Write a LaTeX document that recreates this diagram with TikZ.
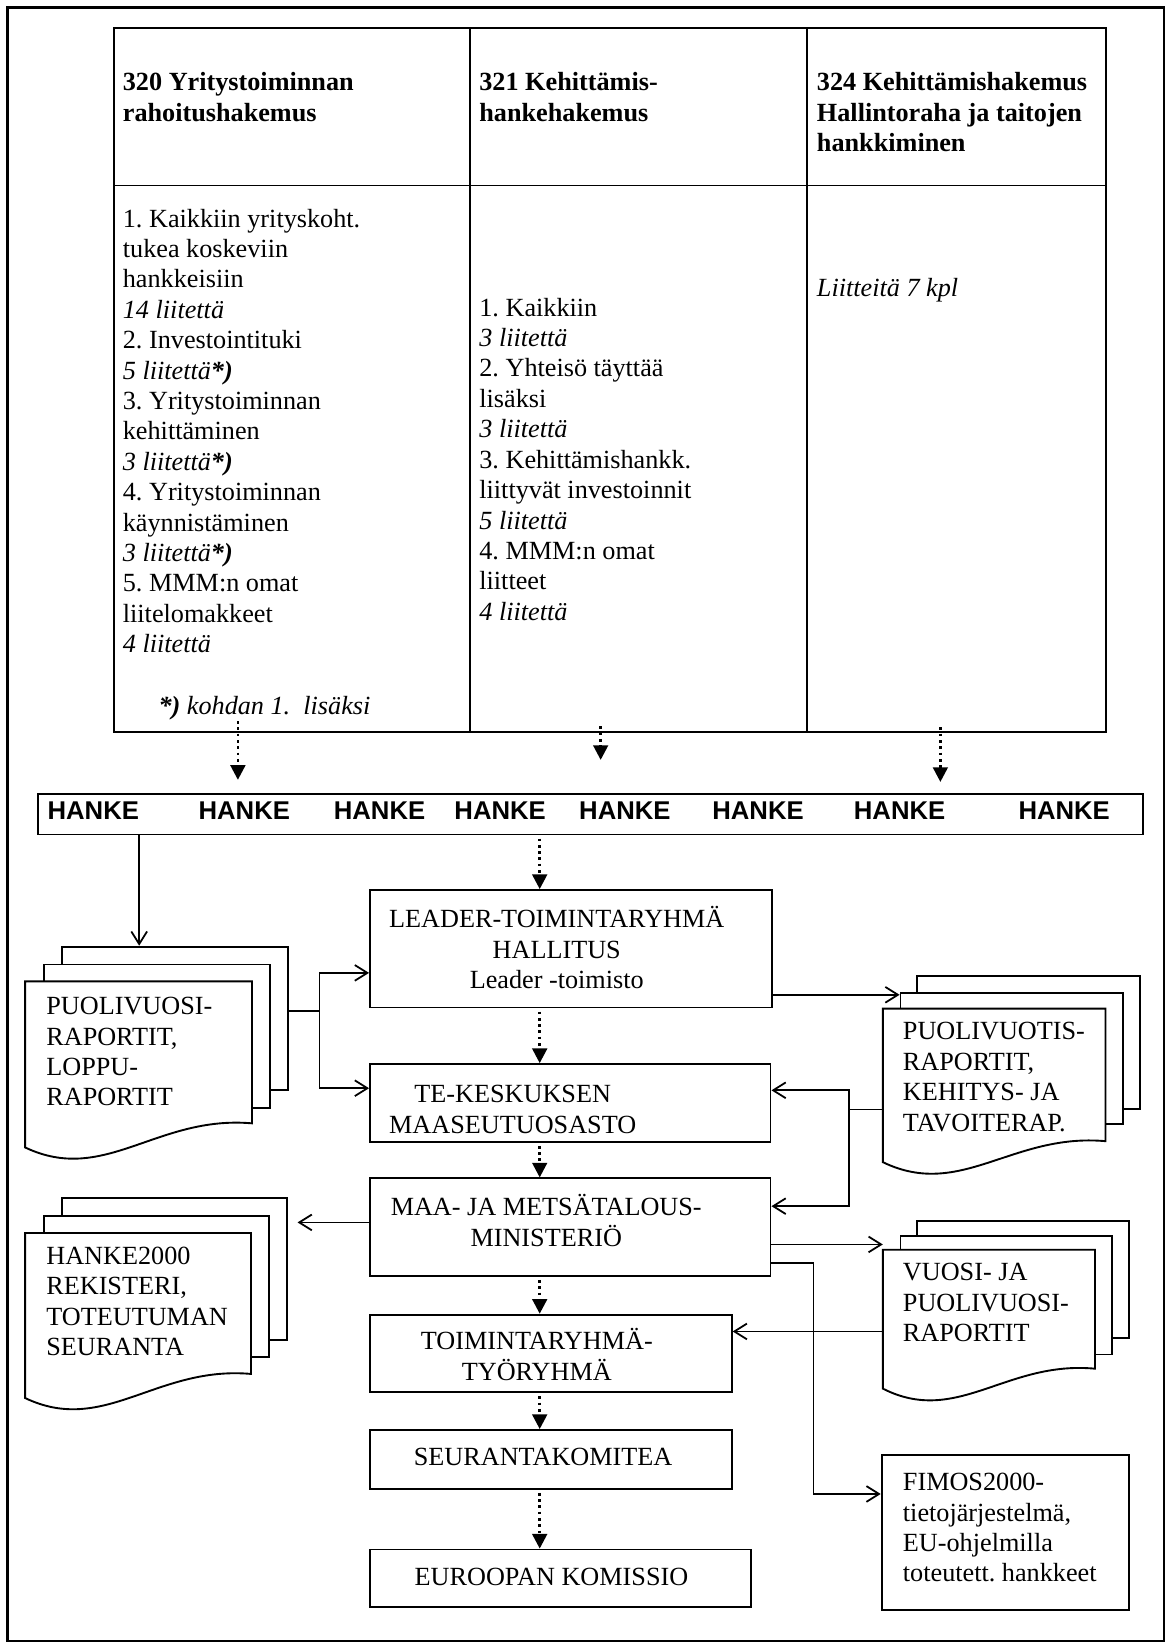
\documentclass[tikz,border=0pt]{standalone}
\usepackage{fontspec}
\setmainfont{Liberation Serif}
\setsansfont{Liberation Sans}
\usetikzlibrary{arrows.meta,calc}
\frenchspacing

% front sheet of a pile of reports: waved lower edge, #2 = extra drop on the left
\newcommand{\wavepage}[2]{%
  \draw[line width=1.8pt, fill=white] (#1.south east)
    .. controls ($(#1.south west)!0.58!(#1.south east)+(0,-8)$) and ($(#1.south west)!0.35!(#1.south east)+(0,#2+36)$)
    .. ([yshift=-#2pt]#1.south west) -- (#1.north west) -- (#1.north east) -- cycle;}

\begin{document}
\begin{tikzpicture}[x=1pt,y=-1pt,
  every node/.style={font=\fontsize{25}{29}\selectfont},
  cell/.style={draw, line width=1.8pt, anchor=north west, inner sep=0pt},
  box/.style={draw, line width=1.8pt, anchor=north west, inner sep=0pt},
  page/.style={draw, fill=white, line width=1.8pt, anchor=north west, inner sep=0pt},
  sheet/.style={anchor=north west, inner sep=0pt},
  txt/.style={anchor=north west, inner sep=0pt, align=left},
  lbl/.style={inner sep=0pt, align=center},
  hd/.style={txt, font=\fontsize{25}{29}\selectfont\bfseries},
  hk/.style={inner sep=0pt, font=\fontsize{24.5}{29}\selectfont\sffamily\bfseries},
  line/.style={line width=1.7pt},
  arr/.style={line width=1.7pt, -{Straight Barb[length=12pt,width=15pt]}},
  dots/.style={line width=2.6pt, dash pattern=on 2.6pt off 3.4pt, shorten <=3pt,
    -{Triangle[length=14pt,width=14pt]}}]

\useasboundingbox (0,0) rectangle (1116,1568);
\draw[line width=2.4pt] (7,7) rectangle (1110,1565);

% the three application forms
\node[cell, minimum width=339pt, minimum height=150pt] (h320) at (108,26) {};
\node[cell, minimum width=322pt, minimum height=150pt] (h321) at (447,26) {};
\node[cell, minimum width=285pt, minimum height=150pt] (h324) at (769,26) {};
\node[cell, minimum width=339pt, minimum height=521pt] (b320) at (108,176) {};
\node[cell, minimum width=322pt, minimum height=521pt] (b321) at (447,176) {};
\node[cell, minimum width=285pt, minimum height=521pt] (b324) at (769,176) {};

\node[hd] (h320t) at (117,69) {320 Yritystoiminnan\\rahoitushakemus};
\node[hd] (h321t) at (457,69) {321 Kehittämis-\\hankehakemus};
\node[hd] (h324t) at (779,69) {324 Kehittämishakemus\\Hallintoraha ja taitojen\\hankkiminen};

\node[txt] (b320t) at (117,199) {1. Kaikkiin yrityskoht.\\tukea koskeviin\\hankkeisiin\\
  \textit{14 liitettä}\\2. Investointituki\\\textit{5 liitettä\textbf{*)}}\\
  3. Yritystoiminnan\\kehittäminen\\\textit{3 liitettä\textbf{*)}}\\
  4. Yritystoiminnan\\käynnistäminen\\\textit{3 liitettä\textbf{*)}}\\
  5. MMM:n omat\\liitelomakkeet\\\textit{4 liitettä}};
\node[txt] (note) at (151,664) {\textit{\textbf{*)} kohdan 1.\ \ lisäksi}};
\node[txt] (b321t) at (457,284) {1. Kaikkiin\\\textit{3 liitettä}\\2. Yhteisö täyttää\\lisäksi\\
  \textit{3 liitettä}\\3. Kehittämishankk.\\liittyvät investoinnit\\\textit{5 liitettä}\\
  4. MMM:n omat\\liitteet\\\textit{4 liitettä}};
\node[txt] (b324t) at (779,265) {\textit{Liitteitä 7 kpl}};

% projects
\node[box, minimum width=1054pt, minimum height=39pt] (hanke) at (35,756) {};
\foreach \x [count=\i] in {89,233,362,477,596,723,858,1015}
  \node[hk] (hk\i) at (\x,773) {HANKE};
\coordinate (spine) at ([xshift=-6pt]hk4.east);

\draw[dots] ([xshift=-51.5pt,yshift=14pt]b320.south) -- ++(0,59);
\draw[dots] ([xshift=-36pt,yshift=9pt]b321.south) -- ++(0,35);
\draw[dots] ([xshift=-15.5pt,yshift=8pt]b324.south) -- ++(0,55);

% reporting chain
\node[box, minimum width=383pt, minimum height=112pt] (leader) at (352,848) {};
\node[lbl] (leadert) at (531,904) {LEADER-TOIMINTARYHMÄ\\HALLITUS\\Leader -toimisto};
\node[box, minimum width=382pt, minimum height=74pt] (te) at (352,1014) {};
\node[lbl] (tet) at (489,1058) {TE-KESKUKSEN\\MAASEUTUOSASTO};
\node[box, minimum width=382pt, minimum height=93pt] (maa) at (352,1123) {};
\node[lbl] (maat) at (521,1164) {MAA- JA METSÄTALOUS-\\MINISTERIÖ};
\node[box, minimum width=345pt, minimum height=74pt] (tr) at (352,1253) {};
\node[lbl] (trt) at (512,1292) {TOIMINTARYHMÄ-\\TYÖRYHMÄ};
\node[box, minimum width=345pt, minimum height=56pt] (sk) at (352,1363) {};
\node[lbl] (skt) at (518,1390) {SEURANTAKOMITEA};
\node[box, minimum width=363pt, minimum height=55pt] (ek) at (352,1477) {};
\node[lbl] (ekt) at (526,1504) {EUROOPAN KOMISSIO};
\node[box, minimum width=236pt, minimum height=148pt] (fimos) at (840,1387) {};
\node[txt] (fimost) at (861,1405) {FIMOS2000-\\tietojärjestelmä,\\EU-ohjelmilla\\toteutett. hankkeet};

\foreach \a/\b in {hanke/leader,leader/te,te/maa,maa/tr,tr/sk,sk/ek}
  \draw[dots] (\a.south -| spine) -- (\b.north -| spine);

% piles of reports
\node[page, minimum width=216pt, minimum height=137pt] (rap1c) at (58,902) {};
\node[page, minimum width=216pt, minimum height=137pt] (rap1b) at (41,919) {};
\node[sheet, minimum width=216pt, minimum height=135pt] (rap1a) at (24,936) {};
\wavepage{rap1a}{23}
\node[txt] (rap1t) at (44,951) {PUOLIVUOSI-\\RAPORTIT,\\LOPPU-\\RAPORTIT};

\node[page, minimum width=215pt, minimum height=135pt] (rap2c) at (58,1142) {};
\node[page, minimum width=215pt, minimum height=134pt] (rap2b) at (41,1159) {};
\node[sheet, minimum width=215pt, minimum height=134pt] (rap2a) at (24,1176) {};
\wavepage{rap2a}{23}
\node[txt] (rap2t) at (44,1189) {HANKE2000\\REKISTERI,\\TOTEUTUMAN\\SEURANTA};

\node[page, minimum width=212pt, minimum height=127pt] (kr1c) at (874,930) {};
\node[page, minimum width=212pt, minimum height=125pt] (kr1b) at (858,946) {};
\node[sheet, minimum width=212pt, minimum height=126pt] (kr1a) at (842,962) {};
\wavepage{kr1a}{20}
\node[txt] (kr1t) at (861,975) {PUOLIVUOTIS-\\RAPORTIT,\\KEHITYS- JA\\TAVOITERAP.};

\node[page, minimum width=202pt, minimum height=111pt] (kr2c) at (874,1164) {};
\node[page, minimum width=202pt, minimum height=113pt] (kr2b) at (858,1178) {};
\node[sheet, minimum width=202pt, minimum height=113pt] (kr2a) at (842,1192) {};
\wavepage{kr2a}{19}
\node[txt] (kr2t) at (861,1205) {VUOSI- JA\\PUOLIVUOSI-\\RAPORTIT};

% reports going up and down
\draw[arr] (hk1.east |- hanke.south) -- (hk1.east |- rap1c.north);
\draw[line] ([yshift=7pt]rap1c.east) -- ++(29,0) coordinate (j1);
\draw[arr] (j1) |- ([yshift=-23pt]leader.west);
\draw[arr] (j1) |- ([yshift=14pt]te.west);

\draw[arr] ([yshift=13pt]leader.south east) coordinate (l1) -- (l1 -| kr1b.west);
\draw[line] ([yshift=-33pt]kr1a.west) -- ++(-32,0) coordinate (j2);
\draw[arr] (j2) |- ([yshift=12pt]te.east);
\draw[arr] (j2) |- ([yshift=20pt]maa.east);

\draw[arr, shorten >=9pt] ([yshift=4.5pt]maa.west) coordinate (m1) -- (m1 -| rap2c.east);
\draw[arr] ([yshift=-16.5pt]maa.east) coordinate (m2) -- (m2 -| kr2a.west);
\draw[arr] ([yshift=-34.5pt]maa.east) -- ++(40,0) |- ([yshift=37pt]fimos.west);

\path ([yshift=21pt]tr.east) coordinate (t1);
\draw[arr] (t1 -| kr2a.west) -- (t1);

\end{tikzpicture}
\end{document}
